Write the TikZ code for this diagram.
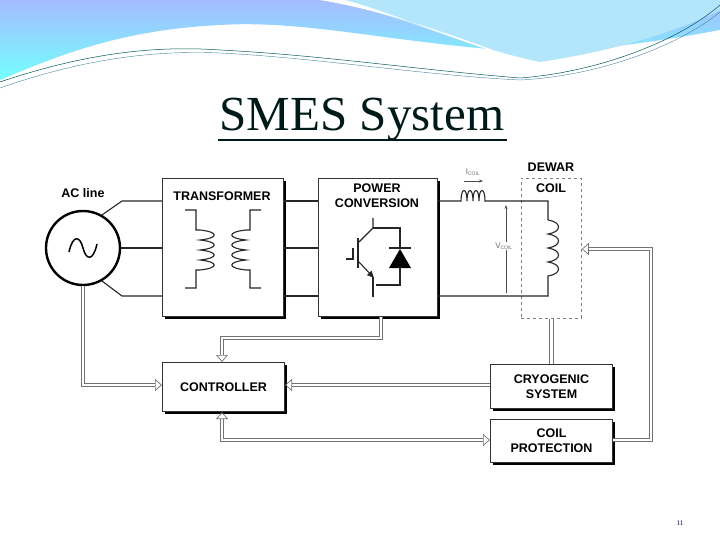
\documentclass[tikz,border=0pt]{standalone}
\usepackage{fontspec}
\setmainfont{Liberation Serif}
\newfontfamily\diag{Liberation Sans}
\usetikzlibrary{arrows.meta,shadows}
\begin{document}
\begin{tikzpicture}[x=1pt,y=-1pt,
  lbl/.style={font=\diag\bfseries\fontsize{12.5}{15}\selectfont,align=center},
  blk/.style={lbl,draw=black!80,line width=1pt,fill=white,
    drop shadow={shadow xshift=2.5pt,shadow yshift=-2.5pt,fill=black,opacity=1}},
  wire/.style={line width=1.1pt,black!85},
  dbl/.style={draw=black!55,double=white,double distance=2.8pt,line width=0.7pt},
  dbla/.style={dbl,-{Triangle[open,length=7pt,width=12pt]}},
  dblaa/.style={dbl,{Triangle[open,length=7pt,width=12pt]}-{Triangle[open,length=7pt,width=12pt]}}]
\useasboundingbox (0,0) rectangle (720,540);
% top decoration
\shade[top color=cyan!25!blue!35!white,bottom color=cyan!55!white]
  (0,0) -- (720,0) -- (720,30) .. controls (640,45) and (560,55) .. (500,50)
  .. controls (380,40) and (300,20) .. (220,25) .. controls (120,30) and (60,55) .. (0,80) -- cycle;
\fill[cyan!30!white] (330,0) .. controls (400,15) and (460,45) .. (540,62) .. controls (620,50) and (680,30) .. (720,10) -- (720,0) -- cycle;
\fill[white] (320,0) .. controls (380,10) and (440,30) .. (520,60) .. controls (440,35) and (390,12) .. (345,0) -- cycle;
\draw[teal!70!black,line width=0.5pt] (0,82) .. controls (80,55) and (150,45) .. (220,50) .. controls (320,55) and (420,70) .. (520,78) .. controls (600,72) and (680,40) .. (720,5);
\draw[cyan!60!black,line width=0.4pt] (0,88) .. controls (80,60) and (150,50) .. (220,53) .. controls (320,58) and (420,75) .. (520,80) .. controls (600,76) and (680,45) .. (720,12);
% title
\node[font=\fontsize{49}{52}\selectfont,text=black!80!teal] (title) at (362,120) {SMES System};
\draw[line width=1.4pt,black!80!teal] (218,140) -- (507,140);
% blocks
\node[blk,minimum width=121,minimum height=138,anchor=north west] (tr) at (162,178) {};
\node[lbl] (trl) at (222,196) {TRANSFORMER};
\node[blk,minimum width=119,minimum height=138,anchor=north west] (pc) at (318,178) {};
\node[lbl,inner sep=0] (pcl) at (377,196) {POWER\\CONVERSION};
\node[blk,minimum width=122,minimum height=49,anchor=north west] (ctl) at (162,362) {CONTROLLER};
\node[blk,minimum width=122,minimum height=44,anchor=north west,inner sep=1pt] (cry) at (490,364) {CRYOGENIC\\SYSTEM};
\node[blk,minimum width=122,minimum height=43,anchor=north west,inner sep=1pt] (cp) at (490,419) {COIL\\PROTECTION};
\node[draw=black!50,dashed,line width=0.8pt,minimum width=60,minimum height=140,anchor=north west] (dw) at (521,178) {};
\node[lbl] (dwl) at (551,167) {DEWAR};
\node[lbl] (coil) at (551,188) {COIL};
\node[lbl] (acl) at (83,193) {AC line};
% AC source
\node[circle,draw=black,line width=2.4pt,minimum size=74] (ac) at (83,248) {};
\draw[line width=1.5pt] (69,252) .. controls (73,234) and (80,236) .. (83,248) .. controls (86,260) and (93,262) .. (97,244);
% wires
\coordinate (t1) at (122,201); \coordinate (b1) at (122,296);
\draw[wire] (ac.60) -- (t1) -- (t1 -| tr.west);
\draw[wire,line width=2.2pt] (ac.east) -- (tr.west |- ac.east);
\draw[wire] (ac.-60) -- (b1) -- (b1 -| tr.west);
\draw[wire] (tr.east |- t1) -- (pc.west |- t1);
\draw[wire,line width=2.2pt] (tr.east |- ac.east) -- (pc.west |- ac.east);
\draw[wire] (tr.east |- b1) -- (pc.west |- b1);
% transformer windings
\draw[wire] (185,210) -- (196,210) -- (196,230) -- (200,230) .. controls (219,232) and (219,238) .. (200,240) .. controls (219,242) and (219,248) .. (200,250) .. controls (219,252) and (219,258) .. (200,260) .. controls (219,262) and (219,268) .. (200,270) -- (196,270) -- (196,288) -- (185,288);
\draw[wire] (261,210) -- (250,210) -- (250,230) -- (246,230) .. controls (227,232) and (227,238) .. (246,240) .. controls (227,242) and (227,248) .. (246,250) .. controls (227,252) and (227,258) .. (246,260) .. controls (227,262) and (227,268) .. (246,270) -- (250,270) -- (250,288) -- (261,288);
% IGBT + diode
\draw[wire] (373,218) -- (373,228) -- (359,242);
\draw[wire,line width=1.8pt] (358,238) -- (358,268);
\draw[wire] (353,248) -- (353,259) -- (346,259);
\draw[wire,-{Triangle[length=7pt,width=6pt]}] (359,262) -- (374,278);
\draw[wire] (373,277) -- (373,297);
\draw[wire] (373,228) -- (400,228) -- (400,248);
\fill (389,268) -- (411,268) -- (400,249) -- cycle;
\draw[wire,line width=1.2pt] (389,248) -- (411,248);
\draw[wire] (400,267) -- (400,285) -- (376,285);
% output side
\draw[wire] (pc.east |- t1) -- (461,201) .. controls (461,187) and (467,187) .. (467,201) .. controls (467,187) and (473,187) .. (473,201)
  .. controls (473,187) and (479,187) .. (479,201) .. controls (479,187) and (485,187) .. (485,201) -- (490,201) -- (548,201) -- (548,220);
\draw[wire] (548,220) .. controls (562,222) and (562,232) .. (548,234) .. controls (562,236) and (562,246) .. (548,248)
  .. controls (562,250) and (562,260) .. (548,262) .. controls (562,264) and (562,274) .. (548,276) -- (548,296) -- (pc.east |- b1);
\draw[black!70,line width=0.7pt,-{Stealth[length=4pt]}] (464,181) -- (483,181);
\node[font=\diag\fontsize{8}{9}\selectfont,text=black!60] (ic) at (473,172) {I\textsubscript{\fontsize{5}{5}\selectfont COIL}};
\draw[black!70,line width=0.7pt,-{Stealth[length=4pt]}] (506,293) -- (506,205);
\node[font=\diag\fontsize{8}{9}\selectfont,text=black!60,fill=white,inner sep=1pt] (vc) at (504,246) {V\textsubscript{\fontsize{5}{5}\selectfont COIL}};
% control arrows
\draw[dbla] (pc.south -| 381,0) -- (381,338) -- (222,338) -- (ctl.north -| 222,0);
\draw[dbla] (ac.south) -- (83,385) -- (ctl.west |- 0,385);
\draw[dbla] (cry.west |- 0,385) -- (ctl.east |- 0,385);
\draw[dbl] (dw.south) -- (cry.north -| dw.south);
\draw[dblaa] (ctl.south -| 222,0) -- (222,440) -- (cp.west |- 0,440);
\draw[dbla] (cp.east |- 0,440) -- (651,440) -- (651,249) -- (dw.east |- 0,249);
% page number
\node[font=\fontsize{7}{8}\selectfont,text=black!70!blue] (pg) at (680,523) {11};
\end{tikzpicture}
\end{document}
